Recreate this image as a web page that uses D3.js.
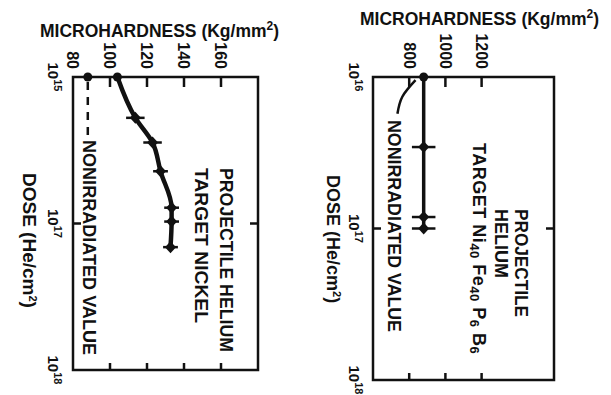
<!DOCTYPE html>
<html>
<head>
<meta charset="utf-8">
<script src="https://cdn.jsdelivr.net/npm/d3@7"></script>
<style>
  html, body { margin: 0; padding: 0; background: #fff; }
  text { font-family: "Liberation Sans", Arial, sans-serif; font-weight: bold; fill: #111; }
</style>
</head>
<body>
<div id="chart"></div>
<script>
// --- data ---
const doseTicks = [1e16, 1e17, 1e18];
const nickelDoseExp = ["15", "17", "18"];
const alloyDoseExp = ["16", "17", "18"];

const nickelHardnessTicks = [80, 100, 120, 140, 160];
const alloyHardnessTicks = [800, 1000, 1200];

// nickel target: first point is the dot at the top edge
const nickelDose = [1e16, 1.9e16, 2.8e16, 4.4e16, 7.8e16, 9.7e16, 1.45e17];
const nickelHardness = [104, 113.7, 123, 127.3, 133.3, 133.3, 132.7];
const nickelErr = [0, 5, 5, 4, 4, 4, 4];
const nickelNonirradiated = 88;

// Ni40 Fe40 P6 B6 target
const alloyDose = [1e16, 2.9e16, 8.4e16, 1e17];
const alloyHardness = [880, 880, 880, 880];
const alloyErr = [0, 65, 65, 65];
// leader line pointing at the nonirradiated value
const alloyLeaderDose = [1.05e16, 1.35e16, 1.75e16];
const alloyLeaderHardness = [835, 762, 735];

const W = 611, H = 395;
const svg = d3.select("#chart").append("svg")
    .attr("width", W).attr("height", H);
svg.append("rect").attr("width", W).attr("height", H).attr("fill", "#fff");

// text turned a quarter clockwise, reading top to bottom
function rotText(g, x, y, str, size, anchor) {
    return g.append("text")
        .attr("transform", `translate(${x},${y}) rotate(90)`)
        .attr("text-anchor", anchor || "start")
        .style("font-size", size + "px")
        .text(str);
}

function drawPanel(p) {
    const g = svg.append("g");
    const x = d3.scaleLinear().domain(p.hDomain).range([p.x0, p.x1]);
    const y = d3.scaleLog().domain([1e16, 1e18]).range([p.y0, p.y1]);

    // title
    const t = g.append("text")
        .attr("x", p.titleX).attr("y", p.titleY)
        .style("font-size", "17.5px")
        .text("MICROHARDNESS (Kg/mm");
    t.append("tspan").attr("baseline-shift", "super").style("font-size", "12px").text("2");
    t.append("tspan").text(")");

    // frame
    g.append("rect")
        .attr("x", p.x0).attr("y", p.y0)
        .attr("width", p.x1 - p.x0).attr("height", p.y1 - p.y0)
        .attr("fill", "none").attr("stroke", "#111").attr("stroke-width", 2.5);

    // hardness ticks, top (down) and bottom (up)
    g.selectAll(".tt").data(p.hMarks).enter().append("line")
        .attr("x1", d => x(d)).attr("x2", d => x(d))
        .attr("y1", p.y0).attr("y2", p.y0 + 10)
        .attr("stroke", "#111").attr("stroke-width", 2.5);
    g.selectAll(".tb").data(p.hMarks).enter().append("line")
        .attr("x1", d => x(d)).attr("x2", d => x(d))
        .attr("y1", p.y1).attr("y2", p.y1 - 7)
        .attr("stroke", "#111").attr("stroke-width", 2.5);
    p.hTicks.forEach(d => {
        rotText(g, x(d), 69, d, 16, "end").attr("dy", "0.35em");
    });

    // dose ticks at 10^17 on both sides
    [p.x0, p.x1].forEach((sx, i) => {
        g.append("line")
            .attr("x1", sx).attr("x2", sx + (i === 0 ? 8 : -8))
            .attr("y1", y(1e17)).attr("y2", y(1e17))
            .attr("stroke", "#111").attr("stroke-width", 2.5);
    });
    doseTicks.forEach((d, i) => {
        const t = rotText(g, p.doseLabelX, y(d), "10", 15, "middle");
        t.append("tspan").attr("baseline-shift", "super").style("font-size", "11px").text(p.doseExp[i]);
    });

    // axis name
    const dl = rotText(g, p.doseNameX, p.doseNameY, "DOSE (He/cm", p.doseNameSize);
    dl.append("tspan").attr("baseline-shift", "super").style("font-size", "11px").text("2");
    dl.append("tspan").text(")");

    return {g, x, y};
}

function markers(P, data) {
    data.forEach((d, i) => {
        const cx = P.x(d.h), cy = P.y(d.dose);
        if (i === 0) {
            P.g.append("circle").attr("cx", cx).attr("cy", cy).attr("r", 4.5).attr("fill", "#111");
            return;
        }
        P.g.append("line")
            .attr("x1", P.x(d.h - d.e)).attr("x2", P.x(d.h + d.e))
            .attr("y1", cy).attr("y2", cy)
            .attr("stroke", "#111").attr("stroke-width", 2.5);
        P.g.append("path")
            .attr("d", `M${cx},${cy - 6}L${cx + 5.5},${cy}L${cx},${cy + 6}L${cx - 5.5},${cy}Z`)
            .attr("fill", "#111");
    });
}

// ---------- left panel: nickel ----------
const L = drawPanel({
    x0: 73, x1: 258, y0: 77, y1: 370,
    hDomain: [80, 180], hTicks: nickelHardnessTicks, hMarks: [100, 120, 140, 160],
    titleX: 40, titleY: 37,
    doseLabelX: 48, doseExp: nickelDoseExp,
    doseNameX: 23, doseNameY: 173, doseNameSize: 19
});

const nickel = nickelDose.map((d, i) => ({dose: d, h: nickelHardness[i], e: nickelErr[i]}));

L.g.append("line")
    .attr("x1", L.x(nickelNonirradiated)).attr("x2", L.x(nickelNonirradiated))
    .attr("y1", L.y(1e16) + 5).attr("y2", L.y(2.5e16))
    .attr("stroke", "#111").attr("stroke-width", 2.5).attr("stroke-dasharray", "8,7");
L.g.append("circle")
    .attr("cx", L.x(nickelNonirradiated)).attr("cy", L.y(1e16)).attr("r", 4.5).attr("fill", "#111");

L.g.append("path").datum(nickel)
    .attr("d", d3.line().x(d => L.x(d.h)).y(d => L.y(d.dose)).curve(d3.curveMonotoneY))
    .attr("fill", "none").attr("stroke", "#111").attr("stroke-width", 4.5);
markers(L, nickel);

rotText(L.g, 83, 140, "NONIRRADIATED VALUE", 18).attr("textLength", 215).attr("lengthAdjust", "spacingAndGlyphs");
rotText(L.g, 220, 168, "PROJECTILE HELIUM", 18).attr("textLength", 184).attr("lengthAdjust", "spacingAndGlyphs");
rotText(L.g, 195, 168, "TARGET NICKEL", 18).attr("textLength", 155).attr("lengthAdjust", "spacingAndGlyphs");

// ---------- right panel: Ni40 Fe40 P6 B6 ----------
const R = drawPanel({
    x0: 373, x1: 554, y0: 77, y1: 380,
    hDomain: [600, 1600], hTicks: alloyHardnessTicks, hMarks: [800, 1000, 1200],
    titleX: 360, titleY: 25,
    doseLabelX: 349, doseExp: alloyDoseExp,
    doseNameX: 327, doseNameY: 175, doseNameSize: 18
});

const alloy = alloyDose.map((d, i) => ({dose: d, h: alloyHardness[i], e: alloyErr[i]}));

R.g.append("path").datum(alloy)
    .attr("d", d3.line().x(d => R.x(d.h)).y(d => R.y(d.dose)))
    .attr("fill", "none").attr("stroke", "#111").attr("stroke-width", 3.5);
markers(R, alloy);

const leader = alloyLeaderDose.map((d, i) => ({dose: d, h: alloyLeaderHardness[i]}));
R.g.append("path").datum(leader)
    .attr("d", d3.line().x(d => R.x(d.h)).y(d => R.y(d.dose)).curve(d3.curveNatural))
    .attr("fill", "none").attr("stroke", "#111").attr("stroke-width", 2.5);

rotText(R.g, 388, 120, "NONIRRADIATED VALUE", 18).attr("textLength", 212).attr("lengthAdjust", "spacingAndGlyphs");
rotText(R.g, 515, 209, "PROJECTILE", 18).attr("textLength", 108).attr("lengthAdjust", "spacingAndGlyphs");
rotText(R.g, 495, 209, "HELIUM", 18).attr("textLength", 69).attr("lengthAdjust", "spacingAndGlyphs");

const tg = rotText(R.g, 473, 143, "TARGET Ni", 18).style("letter-spacing", "0.5px");
[["40", " Fe"], ["40", " P"], ["6", " B"], ["6", ""]].forEach(([sub, next]) => {
    tg.append("tspan").attr("baseline-shift", "-3px").style("font-size", "13px").text(sub);
    if (next) tg.append("tspan").attr("baseline-shift", "0").text(next);
});
</script>
</body>
</html>
